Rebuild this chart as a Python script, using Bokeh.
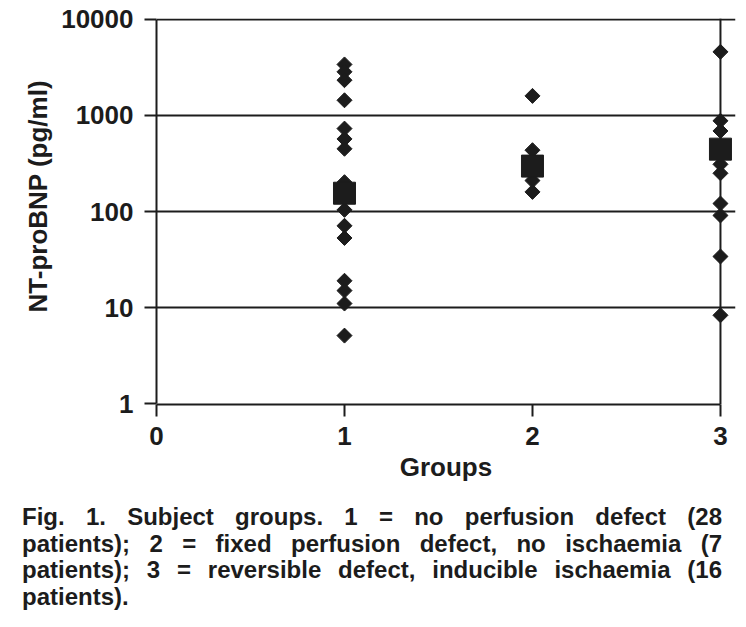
import math
from bokeh.plotting import figure
from bokeh.models import (Range1d, FixedTicker, NumeralTickFormatter, Span, Div, Title)
from bokeh.layouts import column
from bokeh.embed import file_html
from bokeh.resources import INLINE

# ---- data (NT-proBNP, pg/ml) ----
group_ids = [1, 2, 3]
group1_values = [3400, 2850, 2330, 1440, 730, 570, 450, 202,
                 150, 152, 155, 157, 160, 162, 165, 168, 170, 148, 158, 163, 153,
                 104, 71, 53, 19, 15, 11, 5.1]
group2_values = [1600, 435, 330, 300, 270, 210, 160]
group3_values = [4600, 880, 690, 420, 430, 446, 460, 470, 480, 410,
                 310, 250, 121, 91, 34, 8.3]
group_medians = [155, 297, 446]
y_ticks = [1, 10, 100, 1000, 10000]
x_ticks = [0, 1, 2, 3]
x_label = "Groups"
y_label = "NT-proBNP (pg/ml)"
caption_lines = [
    "Fig. 1. Subject groups. 1 = no perfusion defect (28",
    "patients); 2 = fixed perfusion defect, no ischaemia (7",
    "patients); 3 = reversible defect, inducible ischaemia (16",
    "patients).",
]

FONT = "Liberation Sans"
INK = "#1c1c1c"

p = figure(width=738, height=504, output_backend="svg", toolbar_location=None,
           y_axis_type="log",
           x_range=Range1d(0, 3.08),
           y_range=Range1d(10 ** -0.01, 10 ** 4.01),
           min_border_left=156, min_border_right=3,
           min_border_top=18, min_border_bottom=100)
p.outline_line_color = None
p.background_fill_color = "white"
p.border_fill_color = "white"

# points
xs, ys = [], []
for gid, vals in zip(group_ids, [group1_values, group2_values, group3_values]):
    xs += [gid] * len(vals)
    ys += vals
p.scatter(xs, ys, marker="square", angle=math.pi / 4, size=10.6,
          fill_color=INK, line_color=INK)
p.scatter(group_ids, group_medians, marker="square", size=22,
          fill_color=INK, line_color=INK)

# grid
p.xgrid.visible = False
p.ygrid.ticker = FixedTicker(ticks=[10, 100, 1000, 10000])
p.ygrid.grid_line_color = INK
p.ygrid.grid_line_width = 2
p.ygrid.bounds = (0, 3)

# right border at x = 3
p.add_layout(Span(location=3, dimension="height", line_color=INK, line_width=2))

# axes
for ax in (p.xaxis[0], p.yaxis[0]):
    ax.axis_line_color = INK
    ax.axis_line_width = 2
    ax.major_tick_line_color = INK
    ax.major_tick_line_width = 2
    ax.major_tick_out = 12
    ax.major_tick_in = 0
    ax.minor_tick_line_color = None
    ax.major_label_text_font = FONT
    ax.major_label_text_font_style = "bold"
    ax.major_label_text_font_size = "26px"
    ax.major_label_text_color = INK
    ax.axis_label_text_font = FONT
    ax.axis_label_text_font_style = "bold"
    ax.axis_label_text_font_size = "26px"
    ax.axis_label_text_color = INK

p.xaxis.ticker = FixedTicker(ticks=x_ticks)
p.xaxis.bounds = (0, 3)
p.xaxis.major_label_standoff = 10
p.xaxis.axis_label = x_label
p.xaxis.axis_label_standoff = 4

p.yaxis.ticker = FixedTicker(ticks=y_ticks)
p.yaxis.formatter = NumeralTickFormatter(format="0")
p.yaxis.bounds = (1, 10000)
p.yaxis.major_label_standoff = 11

# y-axis title, placed slightly above the frame centre as in the original
p.add_layout(Title(text=y_label, align="left", offset=92, standoff=12,
                   text_font=FONT, text_font_style="bold",
                   text_font_size="26px", text_color=INK), "left")

# caption
line_html = []
for i, line in enumerate(caption_lines):
    last = "justify" if i < len(caption_lines) - 1 else "left"
    line_html.append(
        f'<div style="width:700px;text-align:justify;text-align-last:{last};">{line}</div>'
    )
caption = Div(text="".join(line_html), width=700, margin=(0, 0, 0, 22),
              styles={"font-family": FONT, "font-weight": "bold",
                      "font-size": "24px", "line-height": "26.7px",
                      "color": INK})

layout = column(p, caption, spacing=0)
open("out.html", "w").write(file_html(layout, INLINE))
